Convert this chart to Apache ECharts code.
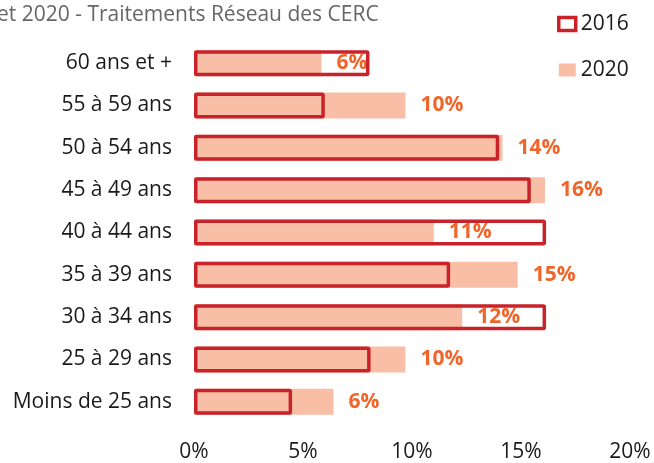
<!DOCTYPE html>
<html><head><meta charset="utf-8">
<script src="https://cdn.jsdelivr.net/npm/echarts@6/dist/echarts.min.js"></script>
<style>html,body{margin:0;padding:0;background:#fff}#c{width:654px;height:463px}</style>
</head><body><div id="c"></div>
<script>
const categories = ['60 ans et +','55 à 59 ans','50 à 54 ans','45 à 49 ans','40 à 44 ans','35 à 39 ans','30 à 34 ans','25 à 29 ans','Moins de 25 ans'];
const values2016 = [8.05, 6.0, 14.0, 15.45, 16.15, 11.75, 16.15, 8.1, 4.5];
const values2020 = [5.85, 9.7, 14.15, 16.1, 11.0, 14.85, 12.3, 9.7, 6.4];
const labels2020 = ['6%','10%','14%','16%','11%','15%','12%','10%','6%'];
const xTicks = [0,5,10,15,20];
const titleText = 'et 2020 - Traitements Réseau des CERC';

const FONT = 'Open Sans';
const chart = echarts.init(document.getElementById('c'), null, {renderer:'canvas'});
chart.setOption({
  animation:false,
  textStyle:{fontFamily:FONT},
  graphic:[{type:'text', left:-3, top:5, style:{text:titleText, fontFamily:FONT, fontSize:21, fill:'#666666'}}],
  legend:{
    orient:'vertical', left:552, top:7, itemWidth:17, itemHeight:13, itemGap:22,
    icon:'rect',
    textStyle:{fontFamily:FONT, fontSize:21, color:'#1a1a1a', lineHeight:24},
    data:[
      {name:'2016', itemStyle:{color:'#ffffff', borderColor:'#c8222a', borderWidth:3.5}},
      {name:'2020'}
    ]
  },
  grid:{left:194, right:24, top:42, bottom:37, containLabel:false},
  xAxis:{
    type:'value', min:xTicks[0], max:xTicks[xTicks.length-1], interval:5,
    axisLine:{show:false}, axisTick:{show:false}, splitLine:{show:false},
    axisLabel:{margin:19, fontFamily:FONT, fontSize:21, color:'#1a1a1a', formatter:v=>v+'%'}
  },
  yAxis:{
    type:'category', data:categories, inverse:true,
    axisLine:{show:false}, axisTick:{show:false},
    axisLabel:{margin:22, fontFamily:FONT, fontSize:21, color:'#1a1a1a'}
  },
  series:[
    {name:'2020', type:'bar', data:values2020, barWidth:26, barGap:'-100%',
     itemStyle:{color:'#f8bfa6'},
     label:{show:true, position:'right', distance:15, fontFamily:FONT, fontSize:21, fontWeight:'bold', color:'#f0652a',
       formatter:p=>labels2020[p.dataIndex]}, z:2},
    {name:'2016', type:'bar', data:values2016, barWidth:26, barGap:'-100%',
     itemStyle:{color:'rgba(255,255,255,0)', borderColor:'#c8222a', borderWidth:3.5, borderRadius:1}, z:3}
  ]
});
</script></body></html>
